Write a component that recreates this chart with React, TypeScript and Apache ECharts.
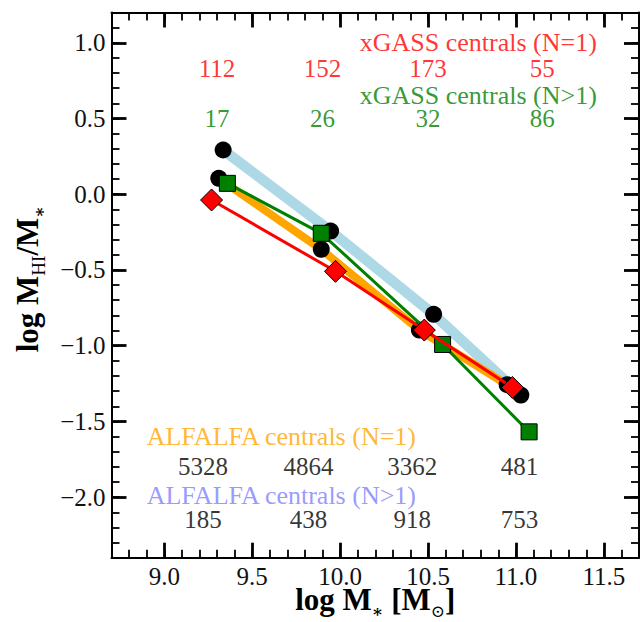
import React, { useEffect, useRef } from 'react';
import * as echarts from 'echarts';

// ---- axis ranges / tick labels ----
const X_RANGE = [8.7, 11.7];
const Y_RANGE = [-2.4, 1.2];
const X_TICKS = [9.0, 9.5, 10.0, 10.5, 11.0, 11.5];
const Y_TICKS = [-2.0, -1.5, -1.0, -0.5, 0.0, 0.5, 1.0];

// ---- data (log M*, log MHI/M*) ----
const ALFALFA_N1: number[][] = [
  [9.31, 0.105], [9.893, -0.364], [10.451, -0.897], [10.95, -1.258],
];
const ALFALFA_NGT1: number[][] = [
  [9.335, 0.292], [9.946, -0.243], [10.532, -0.793], [11.028, -1.326],
];
const XGASS_N1: number[][] = [
  [9.269, -0.038], [9.974, -0.509], [10.479, -0.897], [10.98, -1.276],
];
const XGASS_NGT1: number[][] = [
  [9.359, 0.072], [9.893, -0.258], [10.583, -0.992], [11.075, -1.569],
];

// ---- sample counts ----
const XGASS_N1_COUNTS = [112, 152, 173, 55];
const XGASS_NGT1_COUNTS = [17, 26, 32, 86];
const ALFALFA_N1_COUNTS = [5328, 4864, 3362, 481];
const ALFALFA_NGT1_COUNTS = [185, 438, 918, 753];

// ---- annotation layout (data coordinates) ----
const LAYOUT = {
  xgassTitleX: 11.46,
  xgassCountX: [9.3, 9.9, 10.5, 11.15],
  xgassRows: [1.0, 0.83, 0.65, 0.5],
  alfTitleX: 8.9,
  alfCountX: [9.22, 9.82, 10.41, 11.02],
  alfRows: [-1.6, -1.8, -1.99, -2.15],
};

const SERIF = 'Liberation Serif';

function minorTicks(lo: number, hi: number): number[] {
  const out: number[] = [];
  for (let i = Math.round(lo * 10); i <= Math.round(hi * 10); i++) out.push(i / 10);
  return out;
}
const X_MINOR = minorTicks(X_RANGE[0], X_RANGE[1]);
const Y_MINOR = minorTicks(Y_RANGE[0], Y_RANGE[1]);

const fmt = (v: number) => {
  const s = Number(v).toFixed(1);
  return s.startsWith('-') ? '\u2212' + s.slice(1) : s;
};

const RICH = {
  b: { fontFamily: SERIF, fontSize: 31, fontWeight: 'bold', color: '#000', lineHeight: 40 },
  s: { fontFamily: SERIF, fontSize: 19, fontWeight: 'normal', color: '#000', verticalAlign: 'bottom' },
  sb: { fontFamily: 'DejaVu Serif', fontSize: 17, fontWeight: 'bold', color: '#000', verticalAlign: 'bottom' },
  so: { fontFamily: 'DejaVu Serif', fontSize: 17, fontWeight: 'normal', color: '#000', verticalAlign: 'bottom' },
};

function tickLabel(show: boolean, vals: number[]) {
  return {
    show,
    customValues: vals,
    formatter: fmt,
    fontFamily: SERIF,
    fontSize: 25,
    color: '#111',
    margin: 6,
  };
}

function xAxis(pos: 'top' | 'bottom', major: boolean, first: boolean) {
  const a: any = {
    type: 'value',
    min: X_RANGE[0],
    max: X_RANGE[1],
    position: pos,
    axisLine: { show: major, onZero: false, lineStyle: { color: '#000', width: 2 } },
    axisTick: {
      show: true,
      inside: true,
      length: major ? 15 : 8,
      customValues: major ? X_TICKS : X_MINOR,
      lineStyle: { color: '#000', width: major ? 2.8 : 1.8 },
    },
    axisLabel: tickLabel(first, X_TICKS),
    splitLine: { show: false },
  };
  if (first) {
    a.name = '{b|log M}{sb|\u2217}{b| [M}{so|\u2299}{b|]}';
    a.nameLocation = 'middle';
    a.nameGap = 22;
    a.nameMoveOverlap = false;
    a.nameTextStyle = { rich: RICH };
  }
  return a;
}

function yAxis(pos: 'left' | 'right', major: boolean, first: boolean) {
  const a: any = {
    type: 'value',
    min: Y_RANGE[0],
    max: Y_RANGE[1],
    position: pos,
    axisLine: { show: major, onZero: false, lineStyle: { color: '#000', width: 2 } },
    axisTick: {
      show: true,
      inside: true,
      length: major ? 15 : 8,
      customValues: major ? Y_TICKS : Y_MINOR,
      lineStyle: { color: '#000', width: major ? 2.8 : 1.8 },
    },
    axisLabel: tickLabel(first, Y_TICKS),
    splitLine: { show: false },
  };
  if (first) {
    a.name = '{b|log M}{s|HI}{b|/M}{sb|\u2217}';
    a.nameLocation = 'middle';
    a.nameRotate = 90;
    a.nameGap = 64;
    a.nameTextStyle = { rich: RICH, padding: [0, 0, 0, 12] };
  }
  return a;
}

function textSeries(
  items: { x: number; y: number; text: string }[],
  color: string,
  align: 'left' | 'center' | 'right',
  fontSize: number,
) {
  return {
    type: 'scatter',
    data: items.map((it) => ({ value: [it.x, it.y], label: { formatter: it.text } })),
    symbolSize: 1,
    itemStyle: { color: 'rgba(0,0,0,0)' },
    label: {
      show: true,
      position: 'inside',
      align,
      verticalAlign: 'middle',
      color,
      fontFamily: SERIF,
      fontSize,
      lineHeight: 20,
    },
    labelLayout: { hideOverlap: false },
    silent: true,
    z: 10,
  };
}

const counts = (vals: number[], xs: number[], y: number) =>
  vals.map((v, i) => ({ x: xs[i], y, text: String(v) }));

export default function App() {
  const ref = useRef<HTMLDivElement>(null);
  useEffect(() => {
    document.body.style.margin = '0';
    if (!ref.current) return;
    const chart = echarts.init(ref.current, undefined, { renderer: 'svg' });
    const L = LAYOUT;
    chart.setOption({
      animation: false,
      backgroundColor: '#fff',
      grid: {
        left: 111.5, right: 1, top: 12.5, bottom: 64.3,
        containLabel: false, outerBoundsMode: 'none',
      },
      xAxis: [xAxis('bottom', true, true), xAxis('bottom', false, false), xAxis('top', true, false), xAxis('top', false, false)],
      yAxis: [yAxis('left', true, true), yAxis('left', false, false), yAxis('right', true, false), yAxis('right', false, false)],
      series: [
        {
          type: 'line', data: ALFALFA_NGT1, symbol: 'none', z: 1,
          lineStyle: { color: '#ADD8E6', width: 10.5, join: 'round' },
        },
        {
          type: 'line', data: ALFALFA_N1, symbol: 'none', z: 2,
          lineStyle: { color: '#FFA500', width: 8, join: 'round' },
        },
        {
          type: 'scatter', data: ALFALFA_NGT1.concat(ALFALFA_N1), symbol: 'circle', symbolSize: 17, z: 3,
          itemStyle: { color: '#000', opacity: 1 },
        },
        {
          type: 'line', data: XGASS_NGT1, symbol: 'rect', symbolSize: 16, z: 4,
          lineStyle: { color: '#008000', width: 3 },
          itemStyle: { color: '#008000', borderColor: '#000', borderWidth: 1 },
        },
        {
          type: 'line', data: XGASS_N1, symbol: 'diamond', symbolSize: 22, z: 5,
          lineStyle: { color: '#FF0000', width: 3 },
          itemStyle: { color: '#FF0000', borderColor: '#000', borderWidth: 1 },
        },
        textSeries([{ x: L.xgassTitleX, y: L.xgassRows[0], text: 'xGASS centrals (N=1)' }], '#FF0000', 'right', 26),
        textSeries(counts(XGASS_N1_COUNTS, L.xgassCountX, L.xgassRows[1]), '#FF0000', 'center', 25),
        textSeries([{ x: L.xgassTitleX, y: L.xgassRows[2], text: 'xGASS centrals (N>1)' }], '#008000', 'right', 26),
        textSeries(counts(XGASS_NGT1_COUNTS, L.xgassCountX, L.xgassRows[3]), '#008000', 'center', 25),
        textSeries([{ x: L.alfTitleX, y: L.alfRows[0], text: 'ALFALFA centrals (N=1)' }], '#FFA500', 'left', 26),
        textSeries(counts(ALFALFA_N1_COUNTS, L.alfCountX, L.alfRows[1]), '#000000', 'center', 25),
        textSeries([{ x: L.alfTitleX, y: L.alfRows[2], text: 'ALFALFA centrals (N>1)' }], '#8080FF', 'left', 26),
        textSeries(counts(ALFALFA_NGT1_COUNTS, L.alfCountX, L.alfRows[3]), '#000000', 'center', 25),
      ],
    });
    return () => chart.dispose();
  }, []);
  return <div ref={ref} style={{ width: 640, height: 622 }} />;
}
